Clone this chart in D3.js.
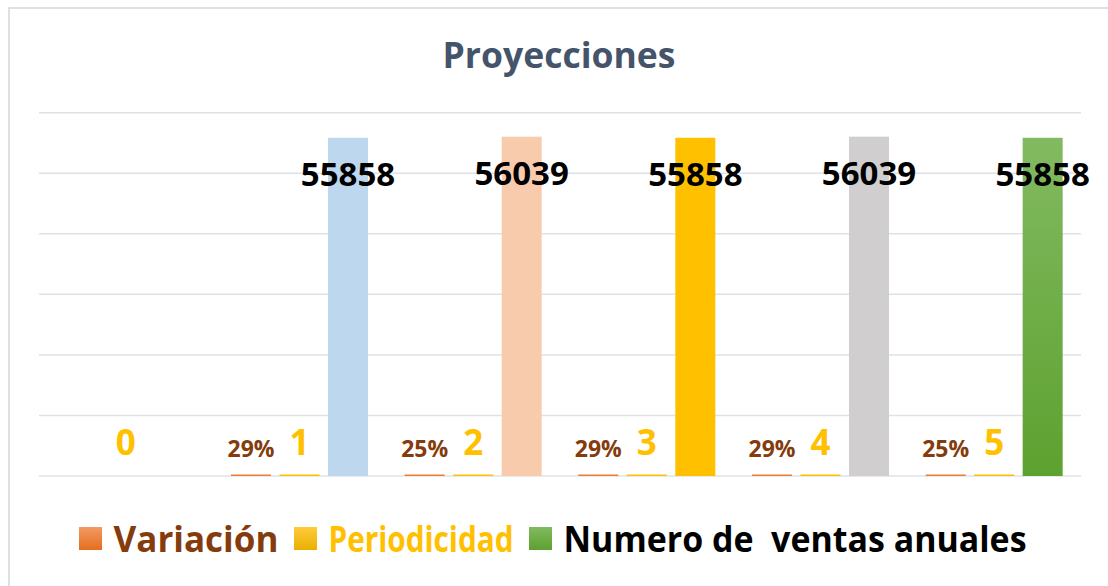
<!DOCTYPE html>
<html>
<head>
<meta charset="utf-8">
<script src="https://cdn.jsdelivr.net/npm/d3@7"></script>
<style>
  html, body { margin: 0; padding: 0; background: #fff; }
  text { font-family: "Open Sans", Lato, "Noto Sans", sans-serif; font-weight: bold; white-space: pre; }
</style>
</head>
<body>
<div id="chart"></div>
<script>
// chart data
const categories = ["0", "1", "2", "3", "4", "5"];
const seriesNames = ["Variación", "Periodicidad", "Numero de  ventas anuales"];
const variacion = [null, 0.29, 0.25, 0.29, 0.29, 0.25];
const periodicidad = [0, 1, 2, 3, 4, 5];
const ventas = [null, 55858, 56039, 55858, 56039, 55858];
const yTicks = [0, 10000, 20000, 30000, 40000, 50000, 60000];

const W = 1108, H = 586;
const svg = d3.select("#chart").append("svg")
  .attr("width", W)
  .attr("height", H);

const defs = svg.append("defs");
function vGrad(id, top, bottom) {
  const g = defs.append("linearGradient").attr("id", id)
    .attr("x1", 0).attr("y1", 0).attr("x2", 0).attr("y2", 1);
  g.append("stop").attr("offset", "0%").attr("stop-color", top);
  g.append("stop").attr("offset", "100%").attr("stop-color", bottom);
}
vGrad("gOrange", "#F39A63", "#E46E1E");
vGrad("gYellow", "#FFCB3C", "#E8B000");
vGrad("gGreen", "#82BA61", "#5DA12F");

// chart frame
svg.append("rect")
  .attr("x", 9).attr("y", 8)
  .attr("width", W + 50).attr("height", H + 50)
  .attr("fill", "none")
  .attr("stroke", "#DDE1E6")
  .attr("stroke-width", 2);

// title
svg.append("text")
  .attr("x", 559).attr("y", 68)
  .attr("text-anchor", "middle")
  .attr("fill", "#44546A")
  .attr("font-size", 35.5)
  .text("Proyecciones");

const margin = { left: 39, right: 1081, top: 112.7, bottom: 476 };

const x = d3.scaleBand()
  .domain(categories)
  .range([margin.left, margin.right]);

const xs = d3.scaleBand()
  .domain(d3.range(3))
  .range([0, x.bandwidth()])
  .paddingInner(0.175)
  .paddingOuter(0.378);

const y = d3.scaleLinear()
  .domain([0, 60000])
  .range([margin.bottom, margin.top]);

// gridlines
svg.append("g")
  .selectAll("line")
  .data(yTicks)
  .join("line")
  .attr("x1", margin.left).attr("x2", margin.right)
  .attr("y1", d => y(d)).attr("y2", d => y(d))
  .attr("stroke", "#DEE2E8")
  .attr("stroke-width", 1.5);

// tiny bars still show as a thin line, like the original
function barTop(v) {
  const h = y(0) - y(v);
  return h < 1.5 ? y(0) - 1.5 : y(v);
}

const rows = categories.map((c, i) => ({ cat: c, v: variacion[i], p: periodicidad[i], s: ventas[i], i }));
const ventasColors = ["#BDD7EE", "#F8CBAD", "#FFC000", "#D0CECE", "url(#gGreen)"];

// Variación
svg.append("g").selectAll("rect")
  .data(rows.filter(d => d.v))
  .join("rect")
  .attr("x", d => x(d.cat) + xs(0))
  .attr("width", xs.bandwidth())
  .attr("y", d => barTop(d.v))
  .attr("height", d => y(0) - barTop(d.v))
  .attr("fill", "#ED7D31");

// Periodicidad
svg.append("g").selectAll("rect")
  .data(rows.filter(d => d.p))
  .join("rect")
  .attr("x", d => x(d.cat) + xs(1))
  .attr("width", xs.bandwidth())
  .attr("y", d => barTop(d.p))
  .attr("height", d => y(0) - barTop(d.p))
  .attr("fill", "#FFC000");

// Numero de ventas anuales
svg.append("g").selectAll("rect")
  .data(rows.filter(d => d.s))
  .join("rect")
  .attr("x", d => x(d.cat) + xs(2))
  .attr("width", xs.bandwidth())
  .attr("y", d => y(d.s))
  .attr("height", d => y(0) - y(d.s))
  .attr("fill", d => ventasColors[d.i - 1]);

// labels
const pct = d3.format(".0%");
svg.append("g").selectAll("text")
  .data(rows.filter(d => d.v))
  .join("text")
  .attr("x", d => x(d.cat) + xs(0) + xs.bandwidth() / 2)
  .attr("y", y(0) - 19)
  .attr("text-anchor", "middle")
  .attr("font-size", 23)
  .attr("fill", "#843C0C")
  .text(d => pct(d.v));

svg.append("g").selectAll("text")
  .data(rows)
  .join("text")
  .attr("x", d => d.i === 0 ? x(d.cat) + x.bandwidth() / 2 : x(d.cat) + xs(1) + xs.bandwidth() / 2)
  .attr("y", y(0) - 21)
  .attr("text-anchor", "middle")
  .attr("font-size", 35)
  .attr("fill", "#FFC000")
  .text(d => d.p);

svg.append("g").selectAll("text")
  .data(rows.filter(d => d.s))
  .join("text")
  .attr("x", d => x(d.cat) + xs(2) + xs.bandwidth() / 2)
  .attr("y", d => y(d.s) + 48)
  .attr("text-anchor", "middle")
  .attr("font-size", 33)
  .attr("fill", "#000")
  .text(d => d.s);

// legend (text fitted to the widths of the narrow original face)
const legendFills = ["url(#gOrange)", "url(#gYellow)", "url(#gGreen)"];
const legendText = ["#843C0C", "#FFC000", "#000000"];
const legendWidths = [165, 185, 463];
const legend = svg.append("g");
let lx = 79;
seriesNames.forEach((name, i) => {
  legend.append("rect")
    .attr("x", lx).attr("y", 527)
    .attr("width", 23).attr("height", 23)
    .attr("fill", legendFills[i]);
  legend.append("text")
    .attr("x", lx + 34.5).attr("y", 552)
    .attr("font-size", 36)
    .attr("fill", legendText[i])
    .attr("textLength", legendWidths[i])
    .attr("lengthAdjust", "spacingAndGlyphs")
    .text(name);
  lx += 34.5 + legendWidths[i] + 15.5;
});
</script>
</body>
</html>
